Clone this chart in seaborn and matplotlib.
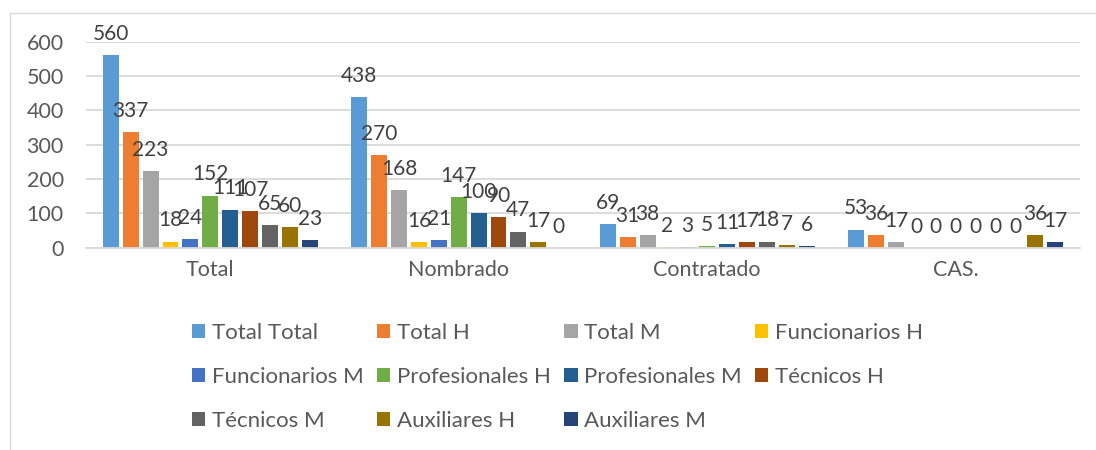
import pandas as pd
import seaborn as sns
import matplotlib.pyplot as plt
from matplotlib.patches import Patch, Rectangle

categorias = ["Total", "Nombrado", "Contratado", "CAS."]
series = ["Total Total", "Total H", "Total M", "Funcionarios H", "Funcionarios M",
          "Profesionales H", "Profesionales M", "Técnicos H", "Técnicos M",
          "Auxiliares H", "Auxiliares M"]
total_vals = [560, 337, 223, 18, 24, 152, 111, 107, 65, 60, 23]
nombrado_vals = [438, 270, 168, 16, 21, 147, 100, 90, 47, 17, 0]
contratado_vals = [69, 31, 38, 2, 3, 5, 11, 17, 18, 7, 6]
cas_vals = [53, 36, 17, 0, 0, 0, 0, 0, 0, 36, 17]
colores = ["#5B9BD5", "#ED7D31", "#A5A5A5", "#FFC000", "#4472C4", "#70AD47",
           "#255E91", "#9E480E", "#636363", "#997300", "#264478"]

rows = []
for cat, vals in zip(categorias, [total_vals, nombrado_vals, contratado_vals, cas_vals]):
    for s, v in zip(series, vals):
        rows.append({"categoria": cat, "serie": s, "valor": v})
df = pd.DataFrame(rows)

sns.set_style("white")
plt.rcParams["font.family"] = ["Lato", "DejaVu Sans"]

fig = plt.figure(figsize=(10.96, 4.5), dpi=100)
ax = fig.add_axes([86 / 1096, 1 - 247.7 / 450, (1080 - 86) / 1096, (247.7 - 41.7) / 450])

sns.barplot(df, x="categoria", y="valor", hue="serie", order=categorias, hue_order=series,
            palette=colores, saturation=1, width=0.88, gap=0.2, linewidth=0,
            legend=False, ax=ax)

for cont in ax.containers:
    ax.bar_label(cont, fmt="%d", padding=8, fontsize=15, color="#404040")

ax.set_ylim(0, 600)
ax.set_xlim(-0.5, 3.5)
ax.set_yticks(range(0, 601, 100))
ax.yaxis.grid(True, color="#D9D9D9", linewidth=1.3)
ax.set_axisbelow(True)
for side in ["top", "right", "left"]:
    ax.spines[side].set_visible(False)
ax.spines["bottom"].set_color("#D9D9D9")
ax.spines["bottom"].set_linewidth(1.3)
ax.tick_params(axis="y", length=0, pad=16, labelsize=15.5, labelcolor="#595959")
ax.tick_params(axis="x", length=0, pad=9, labelsize=15.5, labelcolor="#595959")
ax.set_xlabel("")
ax.set_ylabel("")

handles = [Patch(facecolor=c, edgecolor="none", label=s) for s, c in zip(series, colores)]
orden = [0, 4, 8, 1, 5, 9, 2, 6, 10, 3, 7]
leg = fig.legend([handles[i] for i in orden], [series[i] for i in orden],
                 loc="upper center", bbox_to_anchor=(0.5087, 1 - 303 / 450), ncol=4,
                 frameon=False, fontsize=16, labelcolor="#595959",
                 handlelength=0.6, handleheight=0.6, handletextpad=0.3,
                 columnspacing=0.6, labelspacing=1.08)

fig.patches.append(Rectangle((10 / 1096, -0.05), 1.2, 1.05 - 13 / 450, transform=fig.transFigure,
                             fill=False, edgecolor="#D9D9D9", linewidth=1.0))

fig.savefig("out.png", dpi=100)
